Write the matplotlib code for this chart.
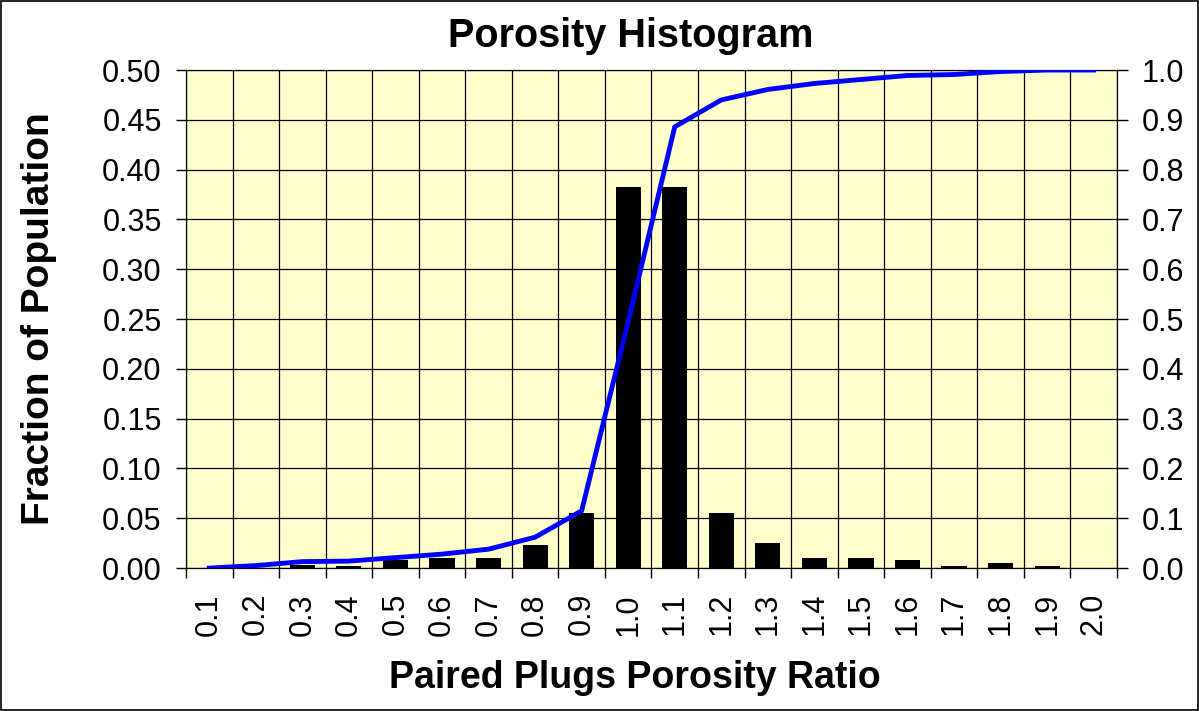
import numpy as np
import matplotlib.pyplot as plt
from matplotlib.ticker import FormatStrFormatter

plt.rcParams['font.family'] = ['Liberation Sans', 'DejaVu Sans']

# bin labels, fraction of population per bin, cumulative fraction
ratio_bins = ["0.1", "0.2", "0.3", "0.4", "0.5", "0.6", "0.7", "0.8", "0.9", "1.0",
              "1.1", "1.2", "1.3", "1.4", "1.5", "1.6", "1.7", "1.8", "1.9", "2.0"]
fraction = [0.0, 0.0, 0.003, 0.002, 0.0085, 0.010, 0.010, 0.023, 0.0557, 0.383,
            0.383, 0.0557, 0.025, 0.010, 0.010, 0.0085, 0.002, 0.0055, 0.002, 0.0]
cumulative = [0.0, 0.005, 0.013, 0.014, 0.021, 0.028, 0.038, 0.062, 0.115, 0.495,
              0.886, 0.940, 0.961, 0.973, 0.981, 0.989, 0.991, 0.997, 1.0, 1.0]

fig = plt.figure(figsize=(11.99, 7.11), dpi=100)
ax = fig.add_axes([0.1551, 0.201, 0.7765, 0.7005])
ax.set_facecolor("#FFFFCC")

x = np.arange(len(ratio_bins))
ax.bar(x, fraction, width=0.54, color="black", zorder=3)
ax.set_xlim(-0.5, len(ratio_bins) - 0.5)
ax.set_ylim(0, 0.5)
ax.set_yticks(np.arange(0, 0.501, 0.05))
ax.yaxis.set_major_formatter(FormatStrFormatter("%.2f"))

# labels at centres, tick marks and grid at bin edges
ax.set_xticks(x)
ax.set_xticklabels(ratio_bins, rotation=90)
ax.set_xticks(np.arange(-0.5, len(ratio_bins)), minor=True)
ax.tick_params(axis="x", which="major", length=0, pad=18, labelsize=22)
ax.tick_params(axis="x", which="minor", length=7, width=1)
ax.tick_params(axis="y", length=7.5, width=1, pad=10, labelsize=22)
ax.grid(True, which="minor", axis="x", color="black", linewidth=0.9, zorder=1)
ax.grid(True, which="major", axis="y", color="black", linewidth=0.9, zorder=1)
ax.set_axisbelow(True)

ax.set_xlabel("Paired Plugs Porosity Ratio", fontsize=27, fontweight="bold")
ax.xaxis.set_label_coords(0.482, -0.185)
ax.set_ylabel("Fraction of Population", fontsize=28, fontweight="bold")
ax.yaxis.set_label_coords(-0.138, 0.5)
ax.set_title("Porosity Histogram", fontsize=28.5, fontweight="bold", x=0.478, y=1.046, pad=0)

ax2 = ax.twinx()
ax2.plot(x, cumulative, color="#0000FF", linewidth=3.5, zorder=4)
ax2.set_ylim(0, 1.0)
ax2.set_yticks(np.arange(0, 1.001, 0.1))
ax2.yaxis.set_major_formatter(FormatStrFormatter("%.1f"))
ax2.tick_params(axis="y", length=8, width=1, pad=10, labelsize=22)

for a in (ax, ax2):
    for s in a.spines.values():
        s.set_color("black")

# border round the whole figure
fig.patches.append(plt.Rectangle((0.001, 0.001), 0.998, 0.997, transform=fig.transFigure,
                                 fill=False, edgecolor="black", linewidth=1.2))

fig.savefig("out.png", dpi=100)
